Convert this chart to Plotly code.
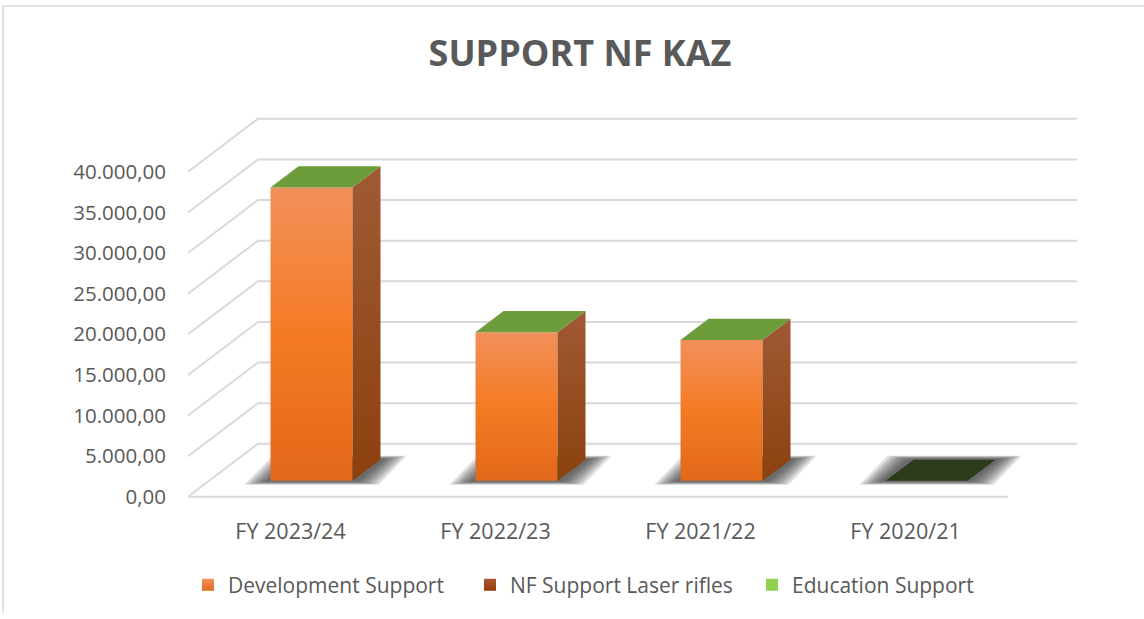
import plotly.graph_objects as go

# ---- data -------------------------------------------------------------
categories = ["FY 2023/24", "FY 2022/23", "FY 2021/22", "FY 2020/21"]
development_support = [36100, 18300, 17350, 0]
nf_support_laser_rifles = [0, 0, 0, 0]
education_support = [0, 0, 0, 0]

y_tick_values = [0, 5000, 10000, 15000, 20000, 25000, 30000, 35000, 40000]
y_tick_labels = ["0,00", "5.000,00", "10.000,00", "15.000,00", "20.000,00",
                 "25.000,00", "30.000,00", "35.000,00", "40.000,00"]

# ---- canvas and axis geometry ----------------------------------------
W, H = 1144, 619
M_L, M_R, M_T, M_B = 188, 64, 115, 106
X_RANGE = [-0.5, 3.851]
Y_RANGE = [-2000, 46985]
PX_X = (X_RANGE[1] - X_RANGE[0]) / (W - M_L - M_R)   # category units per pixel
PX_Y = (Y_RANGE[1] - Y_RANGE[0]) / (H - M_T - M_B)   # value units per pixel

# oblique projection of the floor depth
DEPTH_X = 70 * PX_X
DEPTH_Y = 53 * PX_Y
BAR_FRONT, BAR_BACK = 0.3, 0.7     # depth slice occupied by the columns
BAR_HALF = 0.2                     # half column width (category units)
FLOOR_LEFT, FLOOR_RIGHT = -0.5, 3.5
BACK_RIGHT = FLOOR_LEFT + 889 * PX_X

TEXT = "#595959"
GRID = "#D9D9D9"
FONT = "Open Sans"


def proj(c, v, d):
    """Project a point (category, value, depth fraction) onto the chart plane."""
    return c + d * DEPTH_X, v + d * DEPTH_Y


def polygon(points):
    xs = [p[0] for p in points] + [points[0][0]]
    ys = [p[1] for p in points] + [points[0][1]]
    return xs, ys


fig = go.Figure()

# ---- walls / floor gridlines -----------------------------------------
gx, gy = [], []
for v in y_tick_values:
    fx, fy = proj(FLOOR_LEFT, v, 0)
    bx, by = proj(FLOOR_LEFT, v, 1)
    gx += [fx, bx, BACK_RIGHT, None]
    gy += [fy, by, by, None]
fx0, fy0 = proj(FLOOR_LEFT, 0, 0)
fx1, fy1 = proj(FLOOR_RIGHT, 0, 0)
gx += [fx0, fx1]
gy += [fy0, fy1]
fig.add_trace(go.Scatter(x=gx, y=gy, mode="lines", line=dict(color=GRID, width=2),
                         hoverinfo="skip", showlegend=False))

# ---- series styling ----------------------------------------------------
series = [
    dict(name="Development Support", values=development_support,
         front=[[0, "#E2681A"], [0.5, "#F47B24"], [1, "#F2905B"]],
         side=[[0, "#8C400E"], [1, "#A05A34"]],
         legend=("#F2905B", "#E2681A")),
    dict(name="NF Support Laser rifles", values=nf_support_laser_rifles,
         front=[[0, "#8E3E0A"], [1, "#B0603A"]],
         side=[[0, "#5E2A08"], [1, "#7A3E20"]],
         legend=("#A65B38", "#993B06")),
    dict(name="Education Support", values=education_support,
         front=[[0, "#7DBE3F"], [1, "#A4D86E"]],
         side=[[0, "#4E7E22"], [1, "#6C9B3A"]],
         legend=("#92D050", "#92D050")),
]
TOP_COLOR = "#6D9C3A"
TOP_COLOR_FLOOR = "#2C3C1A"
SHADOW = "#333333"

for i, cat in enumerate(categories):
    total = sum(s["values"][i] for s in series)
    x0, x1 = i - BAR_HALF, i + BAR_HALF

    # soft contact shadow on the floor
    for k in range(7):
        e = (26 - 3.4 * k) * PX_X
        ev = (4 - 0.5 * k) * PX_Y
        pts = [proj(x0 - e, -ev, BAR_FRONT), proj(x1 + e, -ev, BAR_FRONT),
               proj(x1 + e, ev, BAR_BACK), proj(x0 - e, ev, BAR_BACK)]
        sx, sy = polygon(pts)
        fig.add_trace(go.Scatter(x=sx, y=sy, mode="lines", fill="toself",
                                 fillcolor=SHADOW, opacity=0.16, line=dict(width=0),
                                 hoverinfo="skip", showlegend=False))

    # stacked column segments
    base = 0
    for s in series:
        v = s["values"][i]
        if v > 0:
            top = base + v
            # front face
            pts = [proj(x0, base, BAR_FRONT), proj(x1, base, BAR_FRONT),
                   proj(x1, top, BAR_FRONT), proj(x0, top, BAR_FRONT)]
            fx, fy = polygon(pts)
            fig.add_trace(go.Scatter(
                x=fx, y=fy, mode="lines", fill="toself", line=dict(width=0),
                fillgradient=dict(type="vertical", colorscale=s["front"],
                                  start=base + BAR_FRONT * DEPTH_Y,
                                  stop=top + BAR_FRONT * DEPTH_Y),
                name=s["name"], text=[cat] * 5,
                hovertemplate="%{text}<br>" + s["name"] + ": " + f"{v:,.2f}" + "<extra></extra>",
                showlegend=False))
            # right side face
            pts = [proj(x1, base, BAR_FRONT), proj(x1, base, BAR_BACK),
                   proj(x1, top, BAR_BACK), proj(x1, top, BAR_FRONT)]
            sx, sy = polygon(pts)
            fig.add_trace(go.Scatter(
                x=sx, y=sy, mode="lines", fill="toself", line=dict(width=0),
                fillgradient=dict(type="vertical", colorscale=s["side"],
                                  start=base + BAR_FRONT * DEPTH_Y,
                                  stop=top + BAR_BACK * DEPTH_Y),
                hoverinfo="skip", showlegend=False))
            base = top

    # cap of the stack
    pts = [proj(x0, total, BAR_FRONT), proj(x1, total, BAR_FRONT),
           proj(x1, total, BAR_BACK), proj(x0, total, BAR_BACK)]
    tx, ty = polygon(pts)
    fig.add_trace(go.Scatter(x=tx, y=ty, mode="lines", fill="toself",
                             fillcolor=TOP_COLOR if total > 0 else TOP_COLOR_FLOOR,
                             line=dict(width=0), hoverinfo="skip", showlegend=False))

# ---- legend entries --------------------------------------------------
for s in series:
    c_top, c_bottom = s["legend"]
    fig.add_trace(go.Scatter(
        x=[None], y=[None], mode="markers", name=s["name"],
        marker=dict(symbol="square", size=11, color=c_top,
                    gradient=dict(type="vertical", color=c_bottom),
                    line=dict(width=0))))


def paper_x(px):
    return (px - M_L) / (W - M_L - M_R)


def paper_y(py):
    return (H - M_B - py) / (H - M_T - M_B)


fig.update_layout(
    width=W, height=H,
    margin=dict(l=M_L, r=M_R, t=M_T, b=M_B),
    paper_bgcolor="white", plot_bgcolor="white",
    font=dict(family=FONT, color=TEXT, size=21),
    title=dict(text="<b>SUPPORT NF KAZ</b>", font=dict(family=FONT, size=36, color=TEXT),
               xref="container", x=580 / W, xanchor="center",
               yref="container", y=1 - 53 / H, yanchor="middle"),
    xaxis=dict(range=X_RANGE, tickvals=list(range(len(categories))), ticktext=categories,
               showgrid=False, zeroline=False, showline=False, ticks="",
               ticklabelstandoff=3, tickfont=dict(size=21.5, color=TEXT), fixedrange=True),
    yaxis=dict(range=Y_RANGE, tickvals=y_tick_values, ticktext=y_tick_labels,
               showgrid=False, zeroline=False, showline=False, ticks="",
               ticklabelstandoff=21, tickfont=dict(size=20.5, color=TEXT), fixedrange=True),
    legend=dict(orientation="h", xref="container", x=188 / W, xanchor="left",
                yref="container", y=1 - 585 / H, yanchor="middle",
                font=dict(size=21, color=TEXT), entrywidth=237, itemsizing="constant"),
    shapes=[
        dict(type="line", xref="paper", yref="paper", x0=paper_x(3), x1=paper_x(W + 5),
             y0=paper_y(6), y1=paper_y(6), line=dict(color=GRID, width=1.5), layer="below"),
        dict(type="line", xref="paper", yref="paper", x0=paper_x(3), x1=paper_x(3),
             y0=paper_y(6), y1=paper_y(613), line=dict(color=GRID, width=1.5), layer="below"),
    ],
)

fig.write_html("out.html")
